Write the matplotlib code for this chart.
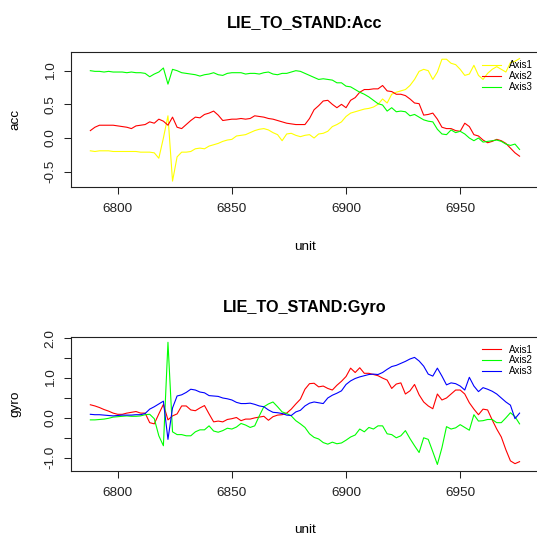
import numpy as np
import matplotlib
matplotlib.use("Agg")
import matplotlib.pyplot as plt

plt.rcParams['font.family'] = ['Liberation Sans', 'DejaVu Sans']

# data (every 2 units)
unit = np.arange(6788, 6977, 2)

acc_axis1 = [-0.19, -0.20, -0.19, -0.19, -0.19, -0.20, -0.20, -0.20, -0.20, -0.20,
             -0.20, -0.21, -0.21, -0.21, -0.22, -0.30, 0.00, 0.33, -0.64, -0.28,
             -0.21, -0.21, -0.20, -0.16, -0.15, -0.16, -0.12, -0.10, -0.08, -0.05,
             -0.03, -0.02, 0.03, 0.04, 0.05, 0.08, 0.11, 0.13, 0.14, 0.12,
             0.08, 0.05, -0.04, 0.06, 0.07, 0.04, 0.02, 0.04, 0.05, 0.00,
             0.06, 0.07, 0.10, 0.17, 0.20, 0.24, 0.32, 0.37, 0.39, 0.41,
             0.43, 0.44, 0.46, 0.50, 0.58, 0.52, 0.65, 0.68, 0.70, 0.72,
             0.78, 0.87, 0.99, 1.02, 1.00, 0.87, 0.98, 1.17, 1.17, 1.11,
             1.09, 1.02, 0.93, 0.95, 1.08, 0.93, 0.87, 0.96, 1.02, 1.06,
             1.02, 0.98, 1.12, 1.14, 1.18]
acc_axis2 = [0.11, 0.16, 0.19, 0.19, 0.19, 0.19, 0.18, 0.17, 0.16, 0.14,
             0.18, 0.19, 0.20, 0.24, 0.22, 0.28, 0.25, 0.19, 0.31, 0.16,
             0.14, 0.20, 0.26, 0.31, 0.30, 0.35, 0.37, 0.40, 0.34, 0.26,
             0.27, 0.28, 0.28, 0.29, 0.28, 0.29, 0.33, 0.32, 0.31, 0.29,
             0.28, 0.26, 0.24, 0.22, 0.21, 0.20, 0.20, 0.20, 0.29, 0.42,
             0.48, 0.55, 0.56, 0.50, 0.45, 0.50, 0.45, 0.56, 0.60, 0.68,
             0.72, 0.72, 0.73, 0.73, 0.78, 0.70, 0.69, 0.65, 0.65, 0.63,
             0.58, 0.52, 0.51, 0.34, 0.35, 0.37, 0.28, 0.16, 0.14, 0.14,
             0.11, 0.10, 0.22, 0.17, 0.05, 0.03, -0.03, -0.07, -0.05, -0.02,
             -0.04, -0.08, -0.15, -0.22, -0.27]
acc_axis3 = [1.00, 0.99, 0.99, 0.98, 0.99, 0.98, 0.98, 0.98, 0.97, 0.98,
             0.97, 0.97, 0.96, 0.91, 0.95, 0.98, 1.04, 0.80, 1.02, 1.00,
             0.97, 0.96, 0.95, 0.94, 0.92, 0.94, 0.95, 0.97, 0.94, 0.93,
             0.96, 0.97, 0.97, 0.97, 0.95, 0.96, 0.96, 0.95, 0.97, 0.98,
             0.95, 0.94, 0.96, 0.96, 0.98, 1.00, 0.99, 0.96, 0.93, 0.90,
             0.87, 0.88, 0.87, 0.86, 0.82, 0.82, 0.77, 0.76, 0.72, 0.68,
             0.65, 0.61, 0.56, 0.51, 0.49, 0.40, 0.45, 0.39, 0.40, 0.39,
             0.33, 0.35, 0.31, 0.27, 0.25, 0.24, 0.13, 0.06, 0.05, 0.12,
             0.08, 0.10, 0.06, 0.00, -0.04, 0.00, -0.06, -0.05, -0.04, -0.03,
             -0.05, -0.09, -0.11, -0.09, -0.17]

gyro_axis1 = [0.33, 0.30, 0.26, 0.21, 0.17, 0.12, 0.09, 0.09, 0.12, 0.14,
              0.16, 0.12, 0.12, -0.12, -0.15, 0.10, 0.34, -0.05, 0.05, 0.10,
              0.30, 0.30, 0.20, 0.18, 0.25, 0.31, 0.10, -0.10, -0.08, -0.10,
              -0.04, -0.02, 0.01, -0.07, -0.03, -0.03, 0.00, 0.02, 0.04, -0.06,
              0.03, 0.07, 0.08, 0.12, 0.22, 0.35, 0.47, 0.72, 0.86, 0.87,
              0.78, 0.80, 0.74, 0.70, 0.82, 0.92, 1.04, 1.25, 1.14, 1.26,
              1.12, 1.12, 1.09, 1.06, 1.00, 0.95, 0.74, 0.85, 0.88, 0.60,
              0.68, 0.84, 0.58, 0.40, 0.30, 0.23, 0.60, 0.45, 0.50, 0.60,
              0.70, 0.70, 0.60, 0.38, 0.22, 0.08, 0.22, 0.20, -0.05, -0.28,
              -0.48, -0.80, -1.08, -1.15, -1.10]
gyro_axis2 = [-0.05, -0.05, -0.04, -0.03, -0.01, 0.02, 0.03, 0.04, 0.05, 0.04,
              0.04, 0.05, 0.08, 0.09, -0.02, -0.45, -0.70, 1.90, -0.35, -0.42,
              -0.42, -0.45, -0.45, -0.35, -0.30, -0.30, -0.20, -0.33, -0.36, -0.32,
              -0.26, -0.28, -0.23, -0.14, -0.18, -0.24, -0.20, 0.05, 0.28, 0.35,
              0.40, 0.28, 0.15, 0.11, 0.05, -0.07, -0.15, -0.24, -0.40, -0.49,
              -0.53, -0.62, -0.66, -0.61, -0.65, -0.63, -0.56, -0.48, -0.43, -0.28,
              -0.35, -0.24, -0.28, -0.20, -0.20, -0.40, -0.42, -0.50, -0.45, -0.32,
              -0.52, -0.70, -0.87, -0.50, -0.54, -0.85, -1.17, -0.75, -0.22, -0.28,
              -0.25, -0.17, -0.24, -0.31, 0.08, -0.08, -0.07, -0.04, -0.04, -0.12,
              -0.12, 0.00, 0.13, 0.03, -0.15]
gyro_axis3 = [0.09, 0.08, 0.08, 0.07, 0.06, 0.05, 0.06, 0.07, 0.07, 0.07,
              0.08, 0.08, 0.11, 0.22, 0.28, 0.35, 0.42, -0.54, 0.25, 0.55,
              0.58, 0.64, 0.72, 0.70, 0.65, 0.63, 0.56, 0.55, 0.54, 0.50,
              0.48, 0.45, 0.39, 0.36, 0.36, 0.37, 0.34, 0.30, 0.28, 0.20,
              0.14, 0.13, 0.11, 0.07, 0.06, 0.15, 0.19, 0.30, 0.37, 0.40,
              0.38, 0.36, 0.50, 0.57, 0.62, 0.68, 0.84, 0.93, 0.99, 1.03,
              1.06, 1.09, 1.10, 1.09, 1.14, 1.22, 1.29, 1.32, 1.37, 1.42,
              1.48, 1.52, 1.43, 1.30, 1.10, 1.05, 1.25, 1.05, 0.83, 0.88,
              0.86, 0.80, 0.70, 1.02, 0.80, 0.66, 0.76, 0.72, 0.67, 0.60,
              0.50, 0.40, 0.32, -0.02, 0.12]

acc_ticks = [-0.5, 0.0, 0.5, 1.0]
acc_ticklabels = ["-0.5", "0.0", "0.5", "1.0"]
gyro_ticks = [-1.0, -0.5, 0.0, 0.5, 1.0, 1.5, 2.0]
gyro_ticklabels = ["-1.0", "", "0.0", "", "1.0", "", "2.0"]
x_ticks = [6800, 6850, 6900, 6950]

W = H = 537.0
fig = plt.figure(figsize=(5.37, 5.37), dpi=100)


def make_axes(top_px, bottom_px):
    left, right = 70.7, 539.2
    return fig.add_axes([left / W, 1 - bottom_px / H,
                         (right - left) / W, (bottom_px - top_px) / H])


def style(ax, title, ylabel, ylim, yticks, yticklabels):
    ax.set_xlim(6779.4, 6984.6)
    ax.set_ylim(*ylim)
    ax.set_xticks(x_ticks)
    ax.set_xticklabels([str(t) for t in x_ticks])
    ax.set_yticks(yticks)
    ax.set_yticklabels(yticklabels, rotation=90, va='center')
    ax.tick_params(direction='out', length=5, width=0.75, labelsize=9.7,
                   colors='#222222')
    ax.tick_params(axis='x', pad=7)
    ax.tick_params(axis='y', pad=5)
    for s in ax.spines.values():
        s.set_linewidth(0.8)
        s.set_color('#222222')
    ax.set_title(title, fontsize=11.7, fontweight='bold', pad=18)
    ax.set_xlabel("unit", fontsize=9.7)
    ax.xaxis.set_label_coords(0.5, -60 / 134.4)
    ax.xaxis.label.set_va('center')
    ax.set_ylabel(ylabel, fontsize=9.7)
    ax.yaxis.set_label_coords(-55.7 / 468.5, 0.5)
    ax.yaxis.label.set_va('center')


# accelerometer
ax1 = make_axes(52.3, 186.7)
ax1.plot(unit, acc_axis1, color='yellow', lw=0.8, label='Axis1')
ax1.plot(unit, acc_axis2, color='red', lw=0.8, label='Axis2')
ax1.plot(unit, acc_axis3, color='#00ff00', lw=0.8, label='Axis3')
style(ax1, "LIE_TO_STAND:Acc", "acc", (-0.723, 1.273), acc_ticks, acc_ticklabels)
ax1.legend(loc='upper left', bbox_to_anchor=(0.877, 0.941), frameon=False,
           borderpad=0, borderaxespad=0, handlelength=2.0, handletextpad=0.8,
           labelspacing=0.1, fontsize=7)

# gyroscope
ax2 = make_axes(337.3, 470.7)
ax2.plot(unit, gyro_axis1, color='red', lw=0.8, label='Axis1')
ax2.plot(unit, gyro_axis2, color='#00ff00', lw=0.8, label='Axis2')
ax2.plot(unit, gyro_axis3, color='blue', lw=0.8, label='Axis3')
style(ax2, "LIE_TO_STAND:Gyro", "gyro", (-1.327, 2.025), gyro_ticks, gyro_ticklabels)
ax2.legend(loc='upper left', bbox_to_anchor=(0.877, 0.946), frameon=False,
           borderpad=0, borderaxespad=0, handlelength=2.0, handletextpad=0.8,
           labelspacing=0.1, fontsize=7)

fig.savefig("out.png", dpi=100)
